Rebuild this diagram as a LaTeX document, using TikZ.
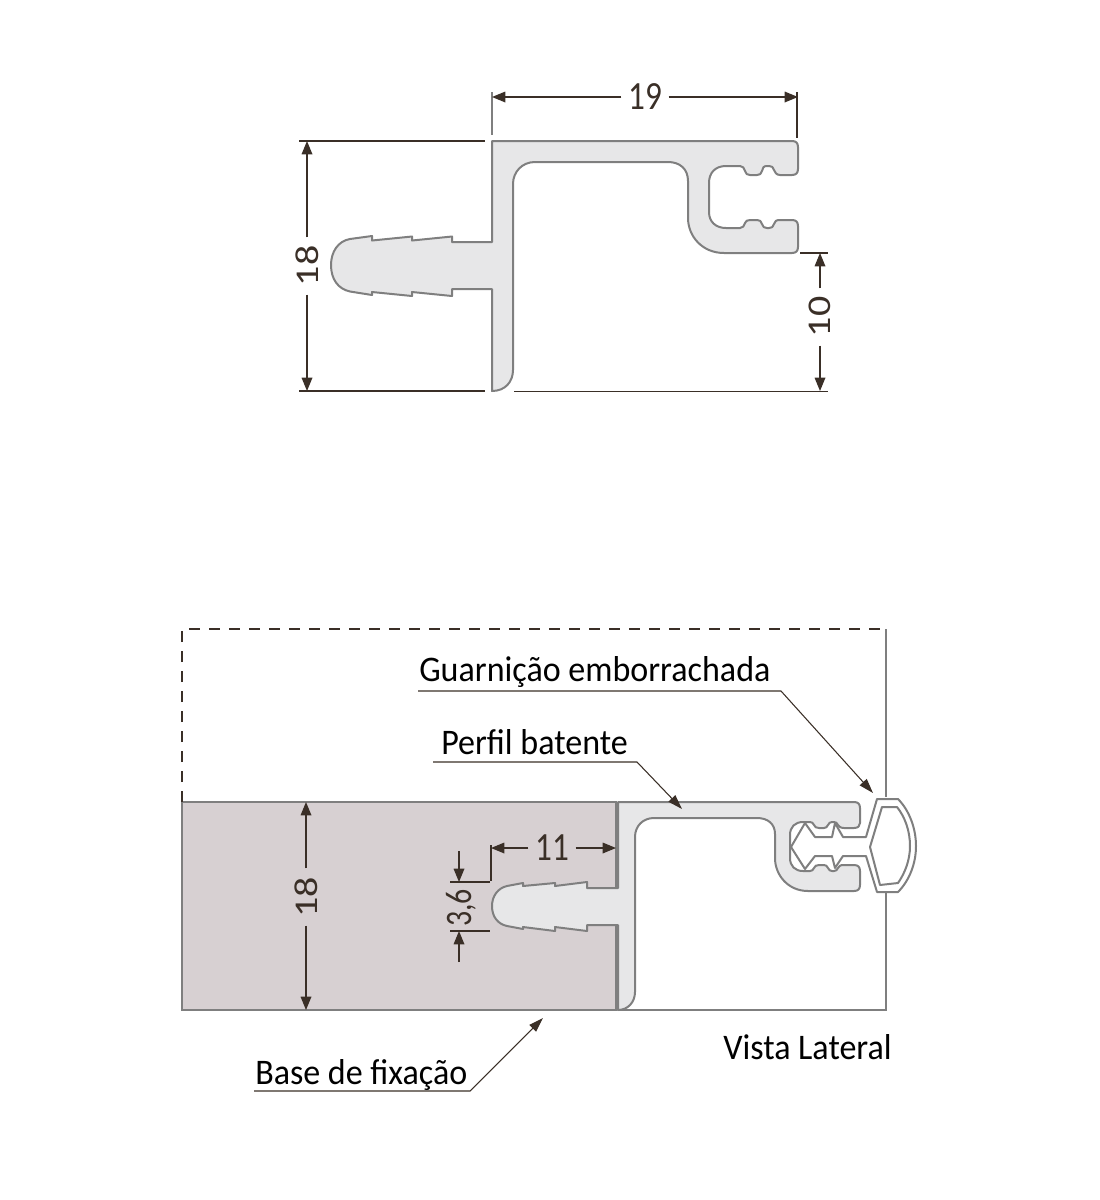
\documentclass[tikz,border=0pt]{standalone}
\usepackage{fontspec}
\setmainfont{Carlito}
\usetikzlibrary{arrows.meta}
\definecolor{inkbrown}{HTML}{3A2F27}
\definecolor{profgrey}{HTML}{7F7F7F}
\definecolor{proffill}{HTML}{E7E7E8}
\definecolor{basefill}{HTML}{D7D0D2}
\tikzset{
  profile/.style={draw=profgrey,fill=proffill,line width=1.5pt,line join=round},
  dimline/.style={draw=inkbrown,line width=0.9pt},
  dimarrow/.style={dimline,-{Triangle[length=10pt,width=8pt]}},
  leader/.style={draw=inkbrown,line width=0.8pt,-{Triangle[length=11pt,width=7pt]}},
  numlabel/.style={text=inkbrown,inner sep=6pt,xscale=0.83,font=\fontsize{30}{34}\selectfont},
  caption/.style={text=black,inner sep=0pt,xscale=0.945,font=\fontsize{27}{32}\selectfont},
}
\begin{document}
\begin{tikzpicture}[x=0.75pt,y=0.75pt,yscale=-1,xscale=1]
\useasboundingbox (0,0) rectangle (1100,1200);

%Shape: top profile
\draw [profile] (492,141) -- (792,141) .. controls (796,141) and (798,143) .. (798,147) -- (798,169) .. controls (798,173) and (796,175) .. (792,175) -- (780,175) .. controls (776,175) and (775,172) .. (774,170) .. controls (773,167) and (772,166) .. (769,166) -- (767,166) .. controls (763,166) and (763,168) .. (762,171) .. controls (761,174) and (760,175) .. (757,175) -- (750,175) .. controls (747,175) and (746,174) .. (745,171) .. controls (744,168) and (743,166) .. (740,166) -- (726,166) .. controls (715,166) and (709,173) .. (709,183) -- (709,212) .. controls (709,222) and (716,228) .. (726,228) -- (740,228) .. controls (743,228) and (744,226) .. (745,223) .. controls (746,221) and (747,220) .. (750,220) -- (757,220) .. controls (760,220) and (761,221) .. (762,224) .. controls (763,227) and (764,228) .. (767,228) -- (769,228) .. controls (772,228) and (773,227) .. (774,224) .. controls (775,221) and (776,220) .. (780,220) -- (792,220) .. controls (796,220) and (798,222) .. (798,226) -- (798,247) .. controls (798,251) and (796,253) .. (792,253) -- (724,253) .. controls (702,253) and (688,236) .. (688,218) -- (688,181) .. controls (688,169) and (680,162) .. (668,162) -- (535,162) .. controls (522,162) and (513,172) .. (513,184) -- (513,370) .. controls (513,382) and (505,391) .. (492,391) -- (492,289) -- (452,289) -- (452,296) -- (412,292) -- (412,296) -- (372,292) -- (372,295) -- (350,291.5) .. controls (338,289) and (331,279) .. (331,265) .. controls (331,252) and (338,241) .. (350,239) -- (372,236) -- (372,240.5) -- (412,236.5) -- (412,240.5) -- (452,236.5) -- (452,242) -- (492,242) -- cycle;

%Shape: base block
\draw [fill=basefill,draw=profgrey,line width=1.7pt] (182,802) rectangle (616,1010);

%Shape: frame
\draw [profgrey,line width=1.3pt] (886,629) -- (886,797) (886,893) -- (886,1010) -- (618,1010);
\draw [inkbrown,line width=1.8pt,dash pattern={on 8.25pt off 6.75pt}] (182,802) -- (182,629) -- (886,629);

%Shape: bottom profile
\draw [profile] (618,802) -- (854,802) .. controls (858,802) and (860,804) .. (860,808) -- (860,823) .. controls (860,826) and (858,828) .. (854,828) -- (844,828) .. controls (840,828) and (839,826) .. (838,825) .. controls (837,823) and (836,822) .. (834,822) -- (832,822) .. controls (830,822) and (829,823) .. (828,825) .. controls (827,827) and (826,828) .. (824,828) -- (819,828) .. controls (816,828) and (815,827) .. (814,825) .. controls (813,823) and (812,822) .. (810,822) -- (803,822) .. controls (795,822) and (790,827) .. (790,835) -- (790,858) .. controls (790,866) and (795,871) .. (803,871) -- (810,871) .. controls (812,871) and (813,870) .. (814,868) .. controls (815,866) and (816,865) .. (819,865) -- (824,865) .. controls (826,865) and (827,866) .. (828,868) .. controls (829,870) and (830,871) .. (832,871) -- (834,871) .. controls (836,871) and (837,870) .. (838,868) .. controls (839,866) and (840,865) .. (844,865) -- (854,865) .. controls (858,865) and (860,867) .. (860,871) -- (860,885) .. controls (860,889) and (858,891) .. (854,891) -- (808,891) .. controls (788,891) and (775,875) .. (775,858) -- (775,834) .. controls (775,824) and (768,818) .. (757,818) -- (654,818) .. controls (643,818) and (635,826) .. (635,837) -- (635,992) .. controls (635,1002) and (628,1010) .. (618,1010) -- (618,925) -- (587,925) -- (587,931) -- (555,927) -- (555,931) -- (523,927) -- (523,929) -- (507,926) .. controls (498,924) and (492,917) .. (492,906) .. controls (492,896) and (498,888) .. (507,886) -- (523,883) -- (523,886) -- (555,883) -- (555,886) -- (587,882) -- (587,888) -- (618,888) -- cycle;

%Shape: rubber gasket
\draw [draw=profgrey,fill=white,line width=1.5pt,line join=round] (877,799) -- (898,799) .. controls (909,810) and (916,828) .. (916,846) .. controls (916,864) and (909,881) .. (898,892) -- (877,892) -- (866,856) -- (843,856) -- (835,868) -- (832,856) -- (815,856) -- (805,869) -- (791,847) -- (805,823) -- (815,837) -- (832,837) -- (835,823) -- (843,837) -- (866,837) -- cycle;
\draw [draw=profgrey,line width=1.5pt,line join=round] (882,807) -- (897,807) .. controls (905,817) and (910,831) .. (910,846) .. controls (910,860) and (905,873) .. (898,883) -- (880,885) -- (870,847) -- cycle;

%Straight Lines: extension lines
\draw [dimline,profgrey] (492,92) -- (492,135);
\draw [dimline] (797,92) -- (797,138);
\draw [dimline] (299,141) -- (485,141);
\draw [dimline] (299,391) -- (485,391);
\draw [dimline] (800,253) -- (828,253);
\draw [dimline] (514,391.5) -- (828,391.5);
\draw [dimline] (491,845) -- (491,881);
\draw [dimline] (450,882) -- (490,882);
\draw [dimline] (450,931) -- (490,931);

% Text Node
\node (dimNineteen) [numlabel] at (645,97) {19};
\node (dimEighteenTop) [numlabel,rotate=90] at (307,266) {18};
\node (dimTen) [numlabel,rotate=90] at (820,317) {10};
\node (dimEighteenBase) [numlabel,rotate=90] at (306,897) {18};
\node (dimEleven) [numlabel] at (552,848) {11};
\node (dimThreeSix) [text=inkbrown,inner sep=1pt,rotate=90,xscale=0.8,font=\fontsize{28}{32}\selectfont] at (461,908) {3,6};
\node (lblGuarnicao) [caption,anchor=base west] at (419,681) {Guarnição emborrachada};
\node (lblPerfil) [caption,anchor=base west] at (441,754) {Perfil batente};
\node (lblBase) [caption,anchor=base west] at (255,1084) {Base de fixação};
\node (lblVista) [caption,anchor=base west] at (723,1059) {Vista Lateral};

%Coordinates for arrow ends
\coordinate (nineteenL) at (492,97);
\coordinate (nineteenR) at (798,97);
\coordinate (eighteenTopA) at (307,141);
\coordinate (eighteenTopB) at (307,391);
\coordinate (tenA) at (820,253);
\coordinate (tenB) at (820,391);
\coordinate (eighteenBaseA) at (306,802);
\coordinate (eighteenBaseB) at (306,1010);
\coordinate (elevenL) at (491,848);
\coordinate (elevenR) at (616,848);
\coordinate (threeSixTopStart) at (459,851);
\coordinate (threeSixTop) at (459,882);
\coordinate (threeSixBotStart) at (459,962);
\coordinate (threeSixBot) at (459,931);

%Straight Lines: dimension arrows
\draw [dimarrow] (dimNineteen) -- (nineteenL);
\draw [dimarrow] (dimNineteen) -- (nineteenR);
\draw [dimarrow] (dimEighteenTop) -- (eighteenTopA);
\draw [dimarrow] (dimEighteenTop) -- (eighteenTopB);
\draw [dimarrow] (dimTen) -- (tenA);
\draw [dimarrow] (dimTen) -- (tenB);
\draw [dimarrow] (dimEighteenBase) -- (eighteenBaseA);
\draw [dimarrow] (dimEighteenBase) -- (eighteenBaseB);
\draw [dimarrow] (dimEleven) -- (elevenL);
\draw [dimarrow] (dimEleven) -- (elevenR);
\draw [dimarrow] (threeSixTopStart) -- (threeSixTop);
\draw [dimarrow] (threeSixBotStart) -- (threeSixBot);

%Leaders
\coordinate (guarnicaoA) at (418,691);
\coordinate (guarnicaoB) at (781,691);
\coordinate (guarnicaoTip) at (873,793);
\coordinate (perfilA) at (433,762);
\coordinate (perfilB) at (637,762);
\coordinate (perfilTip) at (682,809);
\coordinate (baseA) at (254,1091);
\coordinate (baseB) at (470,1091);
\coordinate (baseTip) at (543,1018);
\draw [leader] (guarnicaoA) -- (guarnicaoB) -- (guarnicaoTip);
\draw [leader] (perfilA) -- (perfilB) -- (perfilTip);
\draw [leader] (baseA) -- (baseB) -- (baseTip);

\end{tikzpicture}
\end{document}
